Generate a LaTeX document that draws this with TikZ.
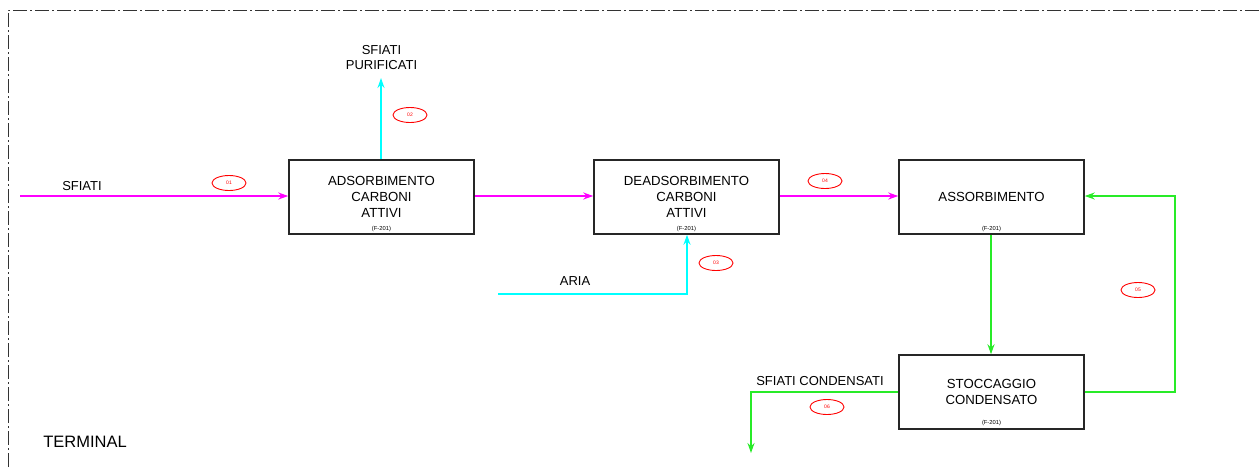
\documentclass[tikz,border=0pt]{standalone}
\usepackage{fontspec}
\setmainfont{Liberation Sans}
\usetikzlibrary{arrows.meta,shapes.geometric}
\definecolor{mag}{RGB}{255,0,255}
\definecolor{cya}{RGB}{0,255,255}
\definecolor{grn}{RGB}{40,235,40}
\tikzset{
  x=1pt,y=-1pt,
  unit/.style={draw=black!85,line width=1.5pt,minimum width=185pt,minimum height=74pt,inner sep=0pt,align=center,font=\fontsize{13.2}{16}\selectfont},
  tag/.style={font=\fontsize{5.8}{6}\selectfont,inner sep=0pt},
  num/.style={draw=red,ellipse,line width=0.9pt,minimum width=34pt,minimum height=15pt,inner sep=0pt,text=red,font=\fontsize{5}{6}\selectfont},
  lbl/.style={font=\fontsize{13}{15}\selectfont,align=center,inner sep=0pt},
  flow/.style={line width=1.6pt,-{Stealth[length=10pt,width=7pt]}},
}
\begin{document}
\begin{tikzpicture}
\useasboundingbox (0,0) rectangle (1259,467);
\draw[line width=1pt,black!80,dash pattern=on 14pt off 3pt on 2pt off 3pt] (8,467) -- (8,10) -- (1259,10);
% boxes
\node[unit] (b1) at (381.5,197) {ADSORBIMENTO\\CARBONI\\ATTIVI};
\node[tag] (t1) at (381.5,228.5) {(F-201)};
\node[unit] (b2) at (686.5,197) {DEADSORBIMENTO\\CARBONI\\ATTIVI};
\node[tag] (t2) at (686.5,228.5) {(F-201)};
\node[unit] (b3) at (991.5,197) {ASSORBIMENTO};
\node[tag] (t3) at (991.5,228.5) {(F-201)};
\node[unit] (b4) at (991.5,392) {STOCCAGGIO\\CONDENSATO};
\node[tag] (t4) at (991.5,423) {(F-201)};
% coordinates
\coordinate (in1) at (20,196);
\coordinate (out1) at (381,78);
\coordinate (aria) at (498,294);
\coordinate (ariac) at (687,294);
\coordinate (dn) at (991,300);
\coordinate (r1) at (1175,392);
\coordinate (r2) at (1175,196);
\coordinate (s1) at (751,392);
\coordinate (s2) at (751,453);
% flows
\draw[flow,mag] (in1) -- (b1.west |- in1);
\draw[flow,mag] (b1.east |- in1) -- (b2.west |- in1);
\draw[flow,mag] (b2.east |- in1) -- (b3.west |- in1);
\draw[flow,cya] (b1.north -| out1) -- (out1);
\draw[flow,cya] (aria) -- (ariac) -- (b2.south -| ariac);
\draw[flow,grn] (b3.south -| dn) -- (b4.north -| dn);
\draw[flow,grn] (b4.east |- r1) -- (r1) -- (r2) -- (b3.east |- r2);
\draw[flow,grn] (b4.west |- s1) -- (s1) -- (s2);
% labels
\node[lbl] (l1) at (82,186) {SFIATI};
\node[lbl] (l2) at (381.5,58) {SFIATI\\PURIFICATI};
\node[lbl] (l3) at (575,281.5) {ARIA};
\node[lbl] (l4) at (820,381) {SFIATI CONDENSATI};
\node[lbl,font=\fontsize{16.5}{18}\selectfont] (l5) at (85,442) {TERMINAL};
% numbers
\node[num] (n1) at (229,183) {01};
\node[num] (n2) at (410,115) {02};
\node[num] (n3) at (716,263) {03};
\node[num] (n4) at (825,181) {04};
\node[num] (n5) at (1138,290) {05};
\node[num] (n6) at (827,407) {06};
\end{tikzpicture}
\end{document}
